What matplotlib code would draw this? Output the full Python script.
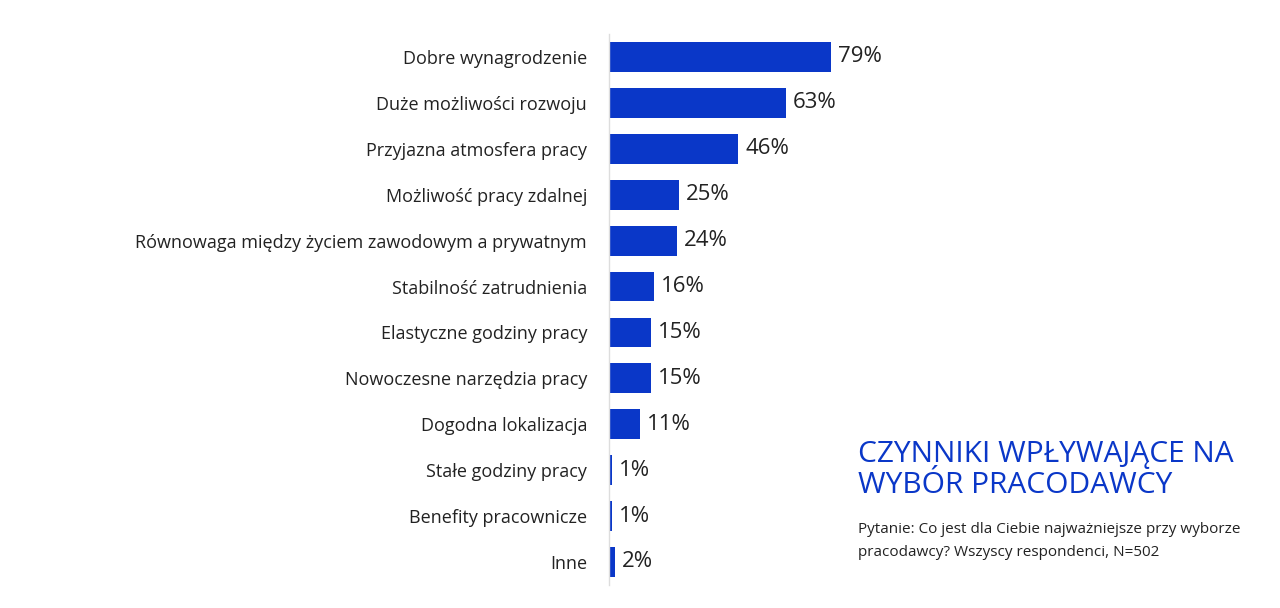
import matplotlib
matplotlib.use("Agg")
import matplotlib.pyplot as plt

plt.rcParams['font.family'] = ['Open Sans', 'DejaVu Sans']

categories = ["Dobre wynagrodzenie", "Duże możliwości rozwoju", "Przyjazna atmosfera pracy",
              "Możliwość pracy zdalnej", "Równowaga między życiem zawodowym a prywatnym",
              "Stabilność zatrudnienia", "Elastyczne godziny pracy", "Nowoczesne narzędzia pracy",
              "Dogodna lokalizacja", "Stałe godziny pracy", "Benefity pracownicze", "Inne"]
values = [79, 63, 46, 25, 24, 16, 15, 15, 11, 1, 1, 2]

blue = "#0a37c8"

fig = plt.figure(figsize=(12.8, 6.08), dpi=100)
ax = fig.add_axes([0.476, 0.038, 0.219, 0.906])

ypos = list(range(len(categories)))
bar_w = [max(v, 0.7) for v in values]
ax.barh(ypos, bar_w, height=0.65, color=blue)
for y, v in zip(ypos, values):
    ax.text(max(v, 0.7) + 2.5, y, f"{v}%", va="center", ha="left", fontsize=16, color="#222222")

ax.set_xlim(0, 100)
ax.set_ylim(len(categories) - 0.5, -0.5)
ax.set_yticks(ypos)
ax.set_yticklabels(categories, fontsize=13, color="#222222")
ax.tick_params(axis="y", length=0, pad=16)
ax.set_xticks([])
for s in ["top", "right", "bottom"]:
    ax.spines[s].set_visible(False)
ax.spines["left"].set_color("#dddddd")
ax.spines["left"].set_linewidth(1)

fig.text(0.670, 0.178, "CZYNNIKI WPŁYWAJĄCE NA\nWYBÓR PRACODAWCY", fontsize=21.5, color=blue,
         va="bottom", ha="left", linespacing=1.1)
fig.text(0.670, 0.142, "Pytanie: Co jest dla Ciebie najważniejsze przy wyborze\npracodawcy? Wszyscy respondenci, N=502",
         fontsize=11, color="#222222", va="top", ha="left", linespacing=1.75)

fig.savefig("out.png", dpi=100)
